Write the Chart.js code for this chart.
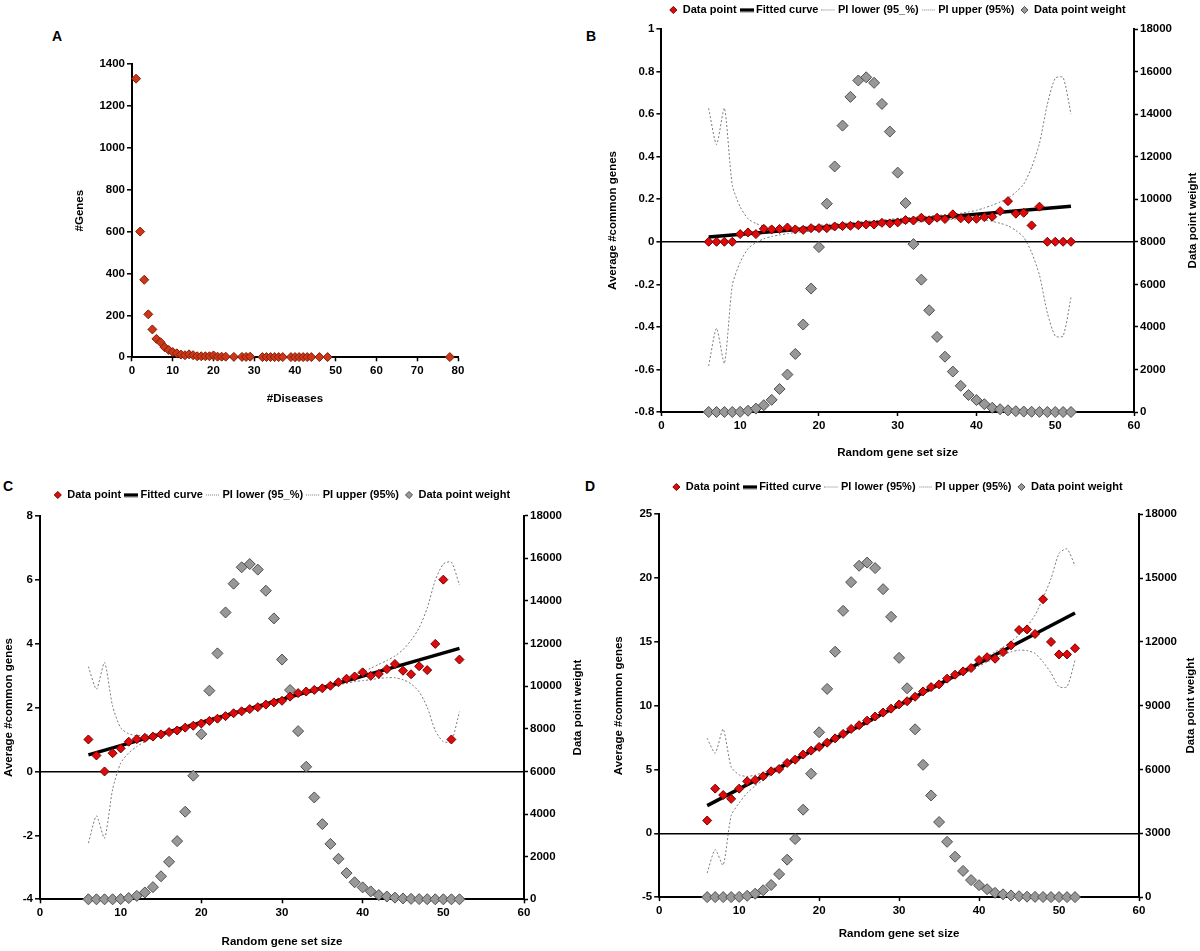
<!DOCTYPE html>
<html><head><meta charset="utf-8">
<script src="https://cdn.jsdelivr.net/npm/chart.js@4.4.1/dist/chart.umd.min.js"></script>
<style>
body{margin:0;background:#fff;width:1200px;height:951px;position:relative;overflow:hidden}
canvas{position:absolute}
.letra{position:absolute;font:bold 14px "Liberation Sans",Arial,sans-serif;color:#000}
</style></head><body>
<div class="letra" style="left:52px;top:28px">A</div>
<div class="letra" style="left:586px;top:28px">B</div>
<div class="letra" style="left:3px;top:478px">C</div>
<div class="letra" style="left:585px;top:478px">D</div>
<canvas id="chA"></canvas><canvas id="chB"></canvas><canvas id="chC"></canvas><canvas id="chD"></canvas>
<script>
const $=id=>document.getElementById(id);

// A: genes x number of diseases
const diseases=[1,2,3,4,5,6,7,8,9,10,11,12,13,14,15,16,17,18,19,20,21,22,23,25,27,28,29,32,33,34,35,36,37,39,40,41,42,43,44,46,48,78];
const genesA=[1330,600,370,205,133,88,72,48,35,25,19,13,10,14,10,5,5,5,5,9,3,3,3,2,2,2,3,1,1,1,1,1,1,1,1,1,1,1,1,1,1,1];

// B-D: random gene set size 6..52
const setSize=[6,7,8,9,10,11,12,13,14,15,16,17,18,19,20,21,22,23,24,25,26,27,28,29,30,31,32,33,34,35,36,37,38,39,40,41,42,43,44,45,46,47,48,49,50,51,52];
const weight=[0,0,0,0,10,60,160,320,570,1080,1760,2730,4110,5800,7750,9790,11540,13460,14810,15580,15730,15470,14480,13180,11250,9820,7890,6220,4780,3530,2600,1900,1230,800,560,370,200,130,78,40,20,10,5,0,0,0,0];
const fitX=[6,52];

const avgB=[0,0,0,0,0.036,0.044,0.036,0.061,0.058,0.06,0.067,0.058,0.056,0.064,0.064,0.064,0.072,0.074,0.075,0.078,0.081,0.081,0.089,0.086,0.091,0.102,0.1,0.113,0.1,0.113,0.107,0.129,0.11,0.107,0.108,0.116,0.118,0.144,0.191,0.132,0.136,0.077,0.165,0,0,0,0];
const fitB=[0.023,0.167];
const upB=[0.627,0.457,0.628,0.266,0.164,0.108,0.086,0.074,0.069,0.068,0.068,0.068,0.071,0.074,0.078,0.081,0.084,0.087,0.09,0.093,0.096,0.099,0.102,0.106,0.109,0.112,0.115,0.118,0.121,0.124,0.127,0.13,0.134,0.14,0.148,0.159,0.172,0.187,0.205,0.233,0.271,0.35,0.463,0.646,0.769,0.772,0.6];
const loB=[-0.583,-0.407,-0.572,-0.204,-0.096,-0.032,-0.004,0.014,0.025,0.032,0.038,0.044,0.047,0.05,0.054,0.057,0.06,0.063,0.066,0.069,0.072,0.075,0.078,0.082,0.085,0.088,0.091,0.094,0.097,0.1,0.103,0.106,0.11,0.11,0.108,0.103,0.096,0.087,0.075,0.053,0.021,-0.05,-0.157,-0.334,-0.443,-0.443,-0.262];

const avgC=[1,0.5,0,0.57,0.72,0.93,1.01,1.05,1.09,1.16,1.23,1.28,1.37,1.43,1.5,1.58,1.65,1.73,1.82,1.88,1.95,2.01,2.09,2.16,2.21,2.34,2.45,2.5,2.55,2.6,2.68,2.79,2.9,2.97,3.1,2.99,3.05,3.2,3.36,3.15,3.04,3.29,3.17,3.99,6,1,3.5];
const fitC=[0.52,3.85];
const upC=[3.28,2.57,3.41,2.04,1.36,1.18,1.12,1.13,1.17,1.23,1.29,1.37,1.44,1.51,1.58,1.66,1.73,1.8,1.87,1.95,2.02,2.09,2.16,2.24,2.31,2.38,2.45,2.52,2.6,2.67,2.74,2.81,2.92,3.01,3.12,3.23,3.35,3.47,3.61,3.81,4.1,4.49,5.11,5.98,6.49,6.55,5.83];
const loC=[-2.24,-1.39,-2.09,-0.56,0.26,0.58,0.78,0.93,1.03,1.12,1.19,1.27,1.34,1.41,1.48,1.56,1.63,1.7,1.77,1.85,1.92,1.99,2.06,2.14,2.21,2.28,2.35,2.42,2.5,2.57,2.64,2.71,2.76,2.81,2.84,2.87,2.91,2.93,2.93,2.87,2.74,2.49,2.01,1.28,0.93,0.95,1.87];

const avgD=[1,3.5,3,2.7,3.5,4.08,4.18,4.47,4.86,5.04,5.51,5.77,6.17,6.48,6.77,7.1,7.44,7.79,8.18,8.47,8.83,9.15,9.46,9.77,10.1,10.35,10.7,11.12,11.46,11.67,12.12,12.43,12.69,12.95,13.58,13.8,13.68,14.2,14.73,15.93,15.98,15.62,18.34,15,14.02,14.02,14.5];
const fitD=[2.17,17.27];
const upD=[7.45,6.28,8.16,5.2,4.58,4.46,4.56,4.76,5.01,5.29,5.59,5.91,6.24,6.57,6.9,7.22,7.55,7.88,8.21,8.53,8.86,9.19,9.52,9.84,10.17,10.5,10.83,11.16,11.48,11.81,12.14,12.47,12.81,13.16,13.51,13.86,14.21,14.59,15.02,15.55,16.22,17.1,18.43,19.96,21.93,22.29,20.96];
const loD=[-3.11,-1.28,-2.5,1.4,2.38,3.16,3.72,4.16,4.57,4.95,5.31,5.63,5.96,6.29,6.62,6.94,7.27,7.6,7.93,8.25,8.58,8.91,9.24,9.56,9.89,10.22,10.55,10.88,11.2,11.53,11.86,12.19,12.49,12.8,13.11,13.42,13.71,13.99,14.22,14.35,14.32,14.1,13.43,12.56,11.49,11.49,13.56];

const FONTE="'Liberation Sans',Arial,sans-serif";
const fT={family:FONTE,size:11.5,weight:"bold"},fL={family:FONTE,size:11,weight:"bold"};
const VERM="#E10A0A",VERM_B="#6E0000",CINZA="#989898",CINZA_B="#4F4F4F",PI="#7A7A7A",LAR="#CD3616",LAR_B="#7E1E0A";
const pts=(xs,ys)=>xs.map((x,i)=>({x,y:ys[i]}));

// amostras de linha para a legenda
function traco(cor,esp,pont){
  const c=document.createElement("canvas");c.width=14;c.height=5;
  const g=c.getContext("2d");g.strokeStyle=cor;g.lineWidth=esp;
  if(pont)g.setLineDash([1,1]);
  g.beginPath();g.moveTo(0,2.5);g.lineTo(14,2.5);g.stroke();return c;
}
const tracoAj=traco("#000",3.5,false),tracoPI=traco(PI,1,true);

// desloca a legenda para a posição da figura
const legendaPos={id:"legendaPos",afterLayout(ch,args,o){
  const L=ch.legend;if(!L||!o||o.cx==null)return;
  const p=L.options.labels.padding,meio=fL.size/2;
  const dx=o.cx-o.ox-(L.left+L.right)/2,dy=o.cy-o.oy-(L.top+p+meio);
  L.left+=dx;L.right+=dx;L.top+=dy;L.bottom+=dy;
}};
// título do eixo direito lido de baixo para cima, como no original
const tituloDir={id:"tituloDir",afterDraw(ch){
  const s=ch.scales.y1;if(!s)return;const g=ch.ctx;
  g.save();g.translate(s.right-fT.size*0.6,(s.top+s.bottom)/2);g.rotate(-Math.PI/2);
  g.font="bold "+fT.size+"px "+FONTE;g.fillStyle="#000";g.textAlign="center";g.textBaseline="middle";
  g.fillText("Data point weight",0,0);g.restore();
}};

function eixoX(max,passo,titulo,tp){
  return {type:"linear",min:0,max,ticks:{stepSize:passo,color:"#000",font:fT,padding:3,maxRotation:0,autoSkip:false},
    grid:{drawOnChartArea:false,color:"#000",tickLength:4,tickWidth:1.5},border:{color:"#000",width:2},
    title:{display:true,text:titulo,color:"#000",font:fT,padding:{top:tp,bottom:0}}};
}
function eixoY(min,max,passo,titulo,tp,zero){
  return {type:"linear",position:"left",min,max,ticks:{stepSize:passo,color:"#000",font:fT,padding:2,autoSkip:false,callback:v=>String(Math.round(v*10)/10)},
    grid:{drawOnChartArea:!!zero,color:c=>zero&&c.tick&&Math.abs(c.tick.value)<1e-9?"#000":"rgba(0,0,0,0)",lineWidth:1.6,tickColor:"#000",tickLength:5,tickWidth:1.5},
    border:{color:"#000",width:2},
    title:{display:true,text:titulo,color:"#000",font:fT,padding:{top:0,bottom:tp}}};
}

function painel(o){
  return {type:"scatter",
    data:{datasets:[
      {label:"Data point",data:pts(setSize,o.media),pointStyle:"rectRot",pointRadius:4.5,backgroundColor:VERM,borderColor:VERM_B,borderWidth:1,clip:false},
      {label:"Fitted curve",data:pts(fitX,o.ajuste),showLine:true,pointRadius:0,borderColor:"#000",backgroundColor:"#000",borderWidth:3.5,pointStyle:tracoAj},
      {label:o.rotInf,data:pts(setSize,o.inf),showLine:true,pointRadius:0,borderColor:PI,borderWidth:1,borderDash:[2,2],tension:.22,pointStyle:tracoPI},
      {label:"PI upper (95%)",data:pts(setSize,o.sup),showLine:true,pointRadius:0,borderColor:PI,borderWidth:1,borderDash:[2,2],tension:.22,pointStyle:tracoPI},
      {label:"Data point weight",data:pts(setSize,weight),yAxisID:"y1",pointStyle:"rectRot",pointRadius:5.5,backgroundColor:CINZA,borderColor:CINZA_B,borderWidth:1,clip:false}
    ]},
    options:{responsive:false,animation:false,events:[],
      layout:{padding:{left:0,top:0,right:0,bottom:0}},
      plugins:{tooltip:{enabled:false},
        legend:{labels:{usePointStyle:true,boxWidth:8,boxHeight:5,padding:6,color:"#000",font:fL}},
        legendaPos:o.leg},
      scales:{
        x:eixoX(60,10,"Random gene set size",o.tx),
        y:eixoY(o.ymin,o.ymax,o.ypasso,"Average #common genes",o.ty,true),
        y1:{type:"linear",position:"right",min:0,max:18000,
          ticks:{stepSize:o.wpasso,color:"#000",font:fT,padding:2,autoSkip:false,callback:v=>String(v)},
          grid:{drawOnChartArea:false,color:"#000",tickLength:4,tickWidth:1.5},border:{color:"#000",width:2},
          title:{display:true,text:"Data point weight",color:"rgba(0,0,0,0)",font:fT,padding:{top:0,bottom:o.tw}}}
      }},
    plugins:[legendaPos,tituloDir]};
}

// posiciona o canvas e ajusta o padding até a área do gráfico cair no alvo
function montar(id,pos,alvo,cfg){
  const cv=$(id);cv.width=pos.w;cv.height=pos.h;cv.style.left=pos.x+"px";cv.style.top=pos.y+"px";
  const ch=new Chart(cv,cfg);
  for(let k=0;k<4;k++){
    const a=ch.chartArea,p=ch.options.layout.padding;
    ch.options.layout.padding={
      left:p.left+(alvo.l-pos.x)-a.left,top:p.top+(alvo.t-pos.y)-a.top,
      right:p.right+a.right-(alvo.r-pos.x),bottom:p.bottom+a.bottom-(alvo.b-pos.y)};
    ch.update("none");
  }
  return ch;
}

montar("chA",{x:20,y:20,w:480,h:410},{l:132,t:64,r:458,b:357.3},{type:"scatter",
  data:{datasets:[{label:"#Genes",data:pts(diseases,genesA),pointStyle:"rectRot",pointRadius:4.5,backgroundColor:LAR,borderColor:LAR_B,borderWidth:1,clip:false}]},
  options:{responsive:false,animation:false,events:[],layout:{padding:{left:0,top:0,right:0,bottom:0}},
    plugins:{legend:{display:false},tooltip:{enabled:false}},
    scales:{x:eixoX(80,10,"#Diseases",11),y:eixoY(0,1400,200,"#Genes",11,false)}}});

const posB={x:600,y:-10,w:600,h:480};
montar("chB",posB,{l:661.4,t:29,r:1134,b:412},painel({media:avgB,ajuste:fitB,inf:loB,sup:upB,rotInf:"PI lower (95_%)",
  ymin:-0.8,ymax:1,ypasso:0.2,wpasso:2000,tx:10.3,ty:12.7,tw:12.1,leg:{cx:897.5,cy:10,ox:posB.x,oy:posB.y}}));

const posC={x:0,y:465,w:600,h:486};
montar("chC",posC,{l:40,t:515.7,r:524,b:899.3},painel({media:avgC,ajuste:fitC,inf:loC,sup:upC,rotInf:"PI lower (95_%)",
  ymin:-4,ymax:8,ypasso:2,wpasso:2000,tx:12,ty:5.2,tw:7.1,leg:{cx:282,cy:495,ox:posC.x,oy:posC.y}}));

const posD={x:600,y:465,w:600,h:486};
montar("chD",posD,{l:659.2,t:514.3,r:1139,b:897.1},painel({media:avgD,ajuste:fitD,inf:loD,sup:upD,rotInf:"PI lower (95%)",
  ymin:-5,ymax:25,ypasso:5,wpasso:3000,tx:6.2,ty:11.5,tw:5.1,leg:{cx:897.5,cy:487,ox:posD.x,oy:posD.y}}));
</script>
</body></html>
